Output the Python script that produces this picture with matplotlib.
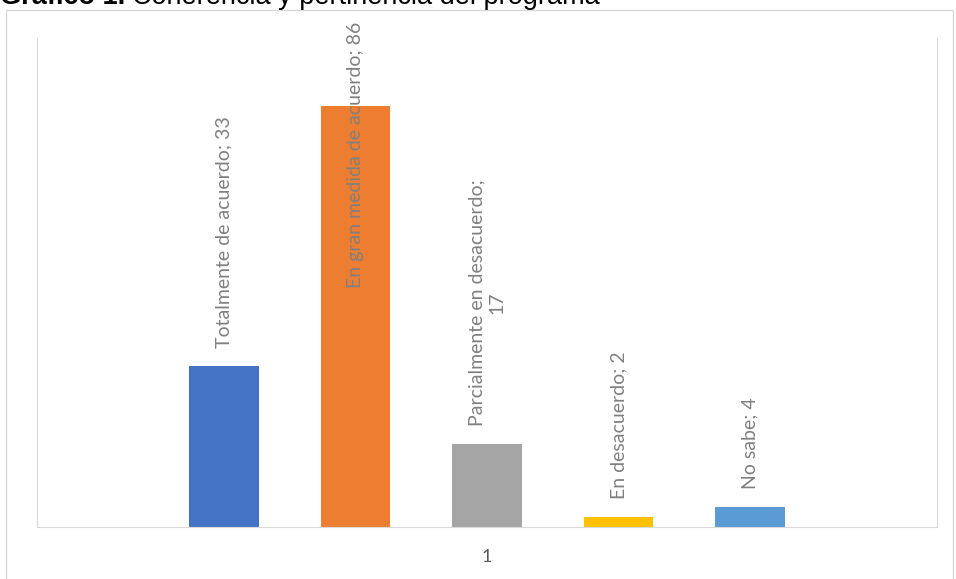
import matplotlib.pyplot as plt
from matplotlib.patches import Rectangle
import numpy as np

# data
categories = ["Totalmente de acuerdo", "En gran medida de acuerdo",
              "Parcialmente en desacuerdo", "En desacuerdo", "No sabe"]
values = [33, 86, 17, 2, 4]
label_texts = ["Totalmente de acuerdo; 33", "En gran medida de acuerdo; 86",
               "Parcialmente en desacuerdo;\n17", "En desacuerdo; 2", "No sabe; 4"]
colors = ["#4472C4", "#ED7D31", "#A5A5A5", "#FFC000", "#5B9BD5"]
tick_label = "1"

W, H = 956, 579
fig = plt.figure(figsize=(W / 100, H / 100), dpi=100)

# outer chart frame
fig.patches.append(Rectangle((6 / W, -0.05), 947 / W, 1.05 - 10 / H,
                             transform=fig.transFigure, fill=False,
                             edgecolor="#d9d9d9", linewidth=1))

ax = fig.add_axes([37 / W, (H - 527) / H, 900 / W, 489 / H])
x = np.arange(len(values))
ax.bar(x, values, width=0.53, color=colors, zorder=2)
ax.set_ylim(0, 100)
ax.set_xlim(2 - 3.42, 2 + 3.42)
ax.set_yticks([])
ax.set_xticks([2])
ax.set_xticklabels([tick_label], fontsize=13, color="#595959", family="Lato")
ax.tick_params(axis="x", length=0, pad=16)
for side in ["left", "right", "bottom"]:
    ax.spines[side].set_color("#d9d9d9")
ax.spines["top"].set_visible(False)

# data labels
for xi, v, txt in zip(x, values, label_texts):
    if v > 60:
        # doesn't fit above the bar, Excel pushes it inside
        ax.annotate(txt, (xi, 100), xytext=(0, 12), textcoords="offset points",
                    rotation=90, ha="center", va="top", fontsize=14,
                    color="#808080", family="Lato", annotation_clip=False)
    else:
        ax.annotate(txt, (xi, v), xytext=(0, 13), textcoords="offset points",
                    rotation=90, ha="center", va="bottom", fontsize=14,
                    color="#808080", family="Lato", multialignment="center",
                    linespacing=1.25)

# title, bold part then normal part (top is cut off like in the original)
t1 = fig.text(0, (H - 4) / H, "Gráfico 1.", fontsize=19.5, fontweight="bold",
              family="Liberation Sans", va="baseline")
fig.canvas.draw()
bb = t1.get_window_extent()
fig.text(bb.x1 / W + 7 / W, (H - 4) / H, "Coherencia y pertinencia del programa",
         fontsize=19.5, family="Liberation Sans", va="baseline")

plt.savefig("out.png", dpi=100)
